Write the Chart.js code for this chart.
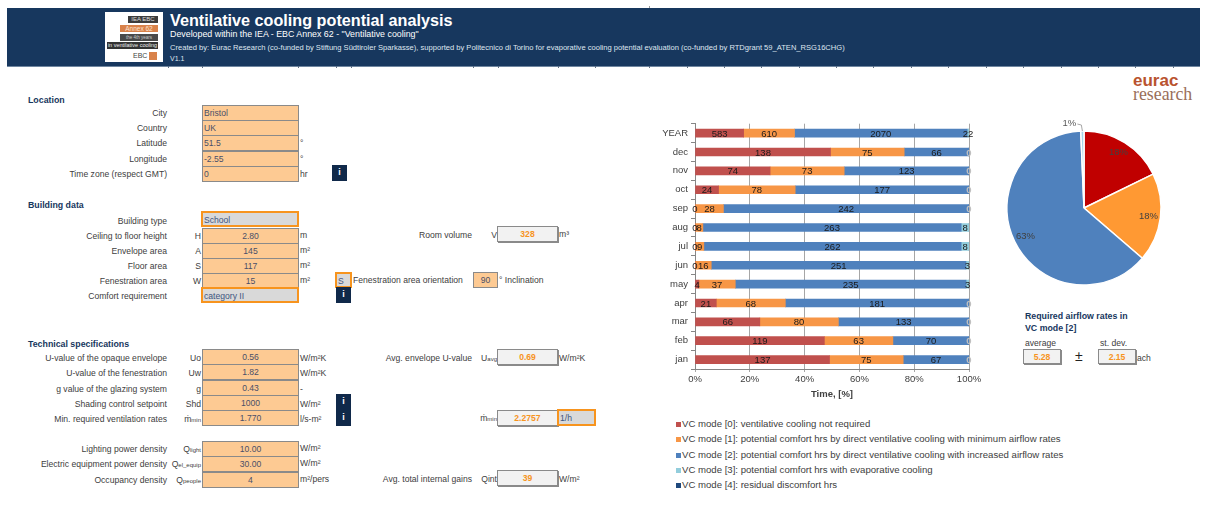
<!DOCTYPE html>
<html>
<head>
<meta charset="utf-8">
<script src="https://cdn.jsdelivr.net/npm/chart.js@4"></script>
<style>
html, body { margin: 0; padding: 0; background: #fff; }
#page { position: relative; width: 1206px; height: 523px; overflow: hidden; font-family: "Liberation Sans", Arial, sans-serif; font-size: 8.6px; color: #404040; }
#page div { position: absolute; white-space: nowrap; }
.band { background: #17375e; }
.head { color: #fff; }
.sec { font-weight: bold; color: #17375e; font-size: 8.8px; }
.lbl { text-align: right; line-height: 16px; }
.sym { text-align: right; line-height: 16px; }
.sym span { font-size: 6px; }
.unit { line-height: 15px; }
.inp { background: #fdca93; border: 1px solid #8a8a8a; box-sizing: border-box; line-height: 15px; color: #4a4f68; }
.inp.c { text-align: center; }
.inp.l { padding-left: 1px; }
.sel { background: #d9d9d9; border: 2px solid #f7941e; box-sizing: border-box; line-height: 14px; color: #3f5580; padding-left: 1px; }
.out { background: #f2f2f2; border: 1px solid #8a8a8a; box-shadow: 1px 1px 0 #8a8a8a; box-sizing: border-box; text-align: center; line-height: 14px; font-weight: bold; color: #f7941e; }
.inf { background: #10294a; color: #fff; text-align: center; font-weight: bold; line-height: 15px; font-size: 9px; }
.lg { font-size: 9.6px; color: #404040; line-height: 12px; }
.sw { width: 5px; height: 5px; }
canvas { position: absolute; }
</style>
</head>
<body>
<div id="page">
  <canvas id="barChart" style="left:650px;top:115px;width:340px;height:285px"></canvas>
  <canvas id="pieChart" style="left:999px;top:108px;width:170px;height:200px"></canvas>
</div>
<script>
// valori
const months = ['YEAR', 'dec', 'nov', 'oct', 'sep', 'aug', 'jul', 'jun', 'may', 'apr', 'mar', 'feb', 'jan'];
const mode0 = [583, 138, 74, 24, 0, 0, 0, 0, 4, 21, 66, 119, 137];
const mode1 = [610, 75, 73, 78, 28, 8, 9, 16, 37, 68, 80, 63, 75];
const mode2 = [2070, 66, 123, 177, 242, 263, 262, 251, 235, 181, 133, 70, 67];
const mode3 = [22, 0, 0, 0, 0, 8, 8, 3, 3, 0, 0, 0, 0];
const mode4 = [0, 0, 0, 0, 0, 0, 0, 0, 0, 0, 0, 0, 0];
const xTicks = ['0%', '20%', '40%', '60%', '80%', '100%'];
const legendNames = [
    'VC mode [0]:  ventilative cooling not required',
    'VC mode [1]:  potential comfort hrs by direct ventilative cooling with minimum airflow rates',
    'VC mode [2]:  potential comfort hrs by direct ventilative cooling with increased airflow rates',
    'VC mode [3]:  potential comfort hrs with evaporative cooling',
    'VC mode [4]:  residual discomfort hrs'
];
const barColors = ['#c0504d', '#f79646', '#4f81bd', '#92cddc', '#1f497d'];
const pieValues = [583, 610, 2070, 22];
const pieLabels = ['18%', '18%', '63%', '1%'];
const pieColors = ['#c00000', '#ff9933', '#4f81bd', '#a5d5e8'];

const page = document.getElementById('page');
function put(cls, x, y, w, h, text) {
    const d = document.createElement('div');
    d.className = cls;
    d.style.left = x + 'px';
    d.style.top = y + 'px';
    if (w) d.style.width = w + 'px';
    if (h) d.style.height = h + 'px';
    if (text !== undefined) d.innerHTML = text;
    page.appendChild(d);
    return d;
}

// testata
put('band', 7, 8, 1193, 58);
put('', 7, 66, 1193, 1).style.background = '#6f86a0';
put('', 649, 6, 1, 2).style.background = '#9a9a9a';
const headMarks = [168, 202, 298, 336, 351, 473, 498, 558, 595, 649, 687, 724, 761, 799, 836, 873, 911, 948, 986, 1023, 1061, 1098, 1135, 1173];
headMarks.forEach(x => {
    put('', x, 66, 1, 2).style.background = '#5d6f85';
});
put('head', 170, 11, 0, 0, 'Ventilative cooling potential analysis').style.cssText += 'font-size:16.2px;font-weight:bold;line-height:18px';
put('head', 170, 28, 0, 0, 'Developed within the IEA - EBC Annex 62 - "Ventilative cooling"').style.cssText += 'font-size:8.85px;line-height:12px';
put('head', 170, 42, 0, 0, 'Created by: Eurac Research (co-funded by Stiftung Südtiroler Sparkasse), supported by Politecnico di Torino for evaporative cooling potential evaluation (co-funded by RTDgrant 59_ATEN_RSG16CHG)').style.cssText += 'font-size:7.57px;line-height:11px;color:#dfe6ef';
put('head', 170, 53, 0, 0, 'V1.1').style.cssText += 'font-size:7px;line-height:11px;color:#dfe6ef';

// logo
put('', 105, 12, 58, 50).style.background = '#fff';
put('', 128, 16, 30, 7, 'IEA EBC').style.cssText += 'background:#3c3c3c;color:#ddd;font-size:6px;line-height:7px;text-align:center';
put('', 120, 25, 38, 7, 'Annex 62').style.cssText += 'background:#d9824a;color:#fbe3d0;font-size:6.5px;line-height:7px;text-align:center';
put('', 120, 34, 38, 7, 'the 4th years').style.cssText += 'background:#4a4a4a;color:#ccc;font-size:4.5px;line-height:7px;text-align:center';
put('', 107, 42, 51, 7, 'in ventilative cooling').style.cssText += 'background:#333;color:#eee;font-size:5.5px;line-height:7px;text-align:center';
put('', 133, 52, 15, 8, 'EBC').style.cssText += 'color:#444;font-size:7px;line-height:8px';
put('', 149, 52, 8, 8).style.background = '#d9824a';

// logo eurac
put('', 1133, 72, 0, 0, 'eurac').style.cssText += 'font-size:17px;font-weight:bold;color:#b9532f;line-height:18px';
put('', 1133, 85, 0, 0, 'research').style.cssText += 'font-family:"Liberation Serif",serif;font-size:17.8px;color:#9a6f5a;line-height:18px';

// colonna sinistra
put('sec', 28, 95, 0, 0, 'Location');
put('sec', 28, 200, 0, 0, 'Building data');
put('sec', 28, 339, 0, 0, 'Technical specifications');

function label(text, y) {
    put('lbl', 0, y, 167, 0, text);
}
function sym(text, x2, y) {
    put('sym', x2 - 40, y, 40, 0, text);
}
function unit(text, x, y) {
    put('unit', x, y, 0, 0, text);
}

const locY = [105, 120, 135, 151, 166];
const locLabels = ['City', 'Country', 'Latitude', 'Longitude', 'Time zone (respect GMT)'];
const locValues = ['Bristol', 'UK', '51.5', '-2.55', '0'];
const locUnits = ['', '', '°', '°', 'hr'];
locY.forEach((y, i) => {
    label(locLabels[i], y);
    put('inp l', 202, y, 97, 16, locValues[i]);
    if (locUnits[i]) unit(locUnits[i], 300, y + 1);
});
put('inf', 332, 165, 15, 16, 'i');

const bldY = [213, 228, 243, 258, 273, 288];
label('Building type', bldY[0]);
put('sel', 201, 211, 98, 16, 'School');
const bldLabels = ['Ceiling to floor height', 'Envelope area', 'Floor area', 'Fenestration area'];
const bldSyms = ['H', 'A', 'S', 'W'];
const bldValues = ['2.80', '145', '117', '15'];
const bldUnits = ['m', 'm²', 'm²', 'm²'];
bldLabels.forEach((t, i) => {
    const y = bldY[i + 1];
    label(t, y);
    sym(bldSyms[i], 201, y);
    put('inp c', 202, y, 97, 16, bldValues[i]);
    unit(bldUnits[i], 300, y);
});
label('Comfort requirement', bldY[5]);
put('sel', 201, 287, 98, 16, 'category II');
put('sel', 335, 272, 17, 16, 'S');
put('inf', 336, 287, 15, 16, 'i');
unit('Fenestration area orientation', 353, 273);
put('inp c', 473, 272, 25, 16, '90');
unit('° Inclination', 499, 273);

put('lbl', 330, 227, 142, 0, 'Room volume');
sym('V', 497, 227);
put('out', 497, 226, 61, 16, '328');
unit('m³', 559, 227);

const tecY = [350, 365, 381, 396, 411];
const tecLabels = ['U-value of the opaque envelope', 'U-value of the fenestration', 'g value of the glazing system', 'Shading control setpoint', 'Min. required ventilation rates'];
const tecSyms = ['Uo', 'Uw', 'g', 'Shd', 'ṁ<span>min</span>'];
const tecValues = ['0.56', '1.82', '0.43', '1000', '1.770'];
const tecUnits = ['W/m²K', 'W/m²K', '-', 'W/m²', 'l/s-m²'];
tecY.forEach((y, i) => {
    label(tecLabels[i], y);
    sym(tecSyms[i], 201, y);
    put('inp c', 202, y - 1, 97, 16, tecValues[i]);
    unit(tecUnits[i], 300, y + 1);
});
put('inf', 336, 394, 15, 16, 'i');
put('inf', 336, 410, 15, 16, 'i');

const gainY = [441, 456, 472];
const gainLabels = ['Lighting power density', 'Electric equipment power density', 'Occupancy density'];
const gainSyms = ['Q<span>light</span>', 'Q<span>el_equip</span>', 'Q<span>people</span>'];
const gainValues = ['10.00', '30.00', '4'];
const gainUnits = ['W/m²', 'W/m²', 'm²/pers'];
gainY.forEach((y, i) => {
    label(gainLabels[i], y);
    sym(gainSyms[i], 201, y);
    put('inp c', 202, y, 97, 15.5, gainValues[i]);
    unit(gainUnits[i], 300, y);
});

// colonna centrale
put('lbl', 330, 350, 142, 0, 'Avg. envelope U-value');
sym('U<span>avg</span>', 497, 350);
put('out', 497, 349, 61, 16, '0.69');
unit('W/m²K', 559, 351);
sym('ṁ<span>min</span>', 497, 410);
put('out', 497, 410, 61, 16, '2.2757');
put('sel', 557, 409, 39, 17, '1/h');
put('lbl', 330, 471, 142, 0, 'Avg. total internal gains');
sym('Qint', 497, 471);
put('out', 497, 470, 61, 16, '39');
unit('W/m²', 559, 472);

// riquadro portate
put('sec', 1025, 311, 0, 0, 'Required airflow rates in');
put('sec', 1025, 323, 0, 0, 'VC mode [2]');
unit('average', 1025, 336);
unit('st. dev.', 1100, 336);
put('out', 1023, 349, 38, 15, '5.28');
put('', 1075, 349, 0, 0, '±').style.cssText += 'font-size:14px;line-height:15px;color:#222';
put('out', 1098, 349, 38, 15, '2.15');
unit('ach', 1137, 351);

// legenda
legendNames.forEach((t, i) => {
    const y = 417.7 + i * 15.4;
    put('sw', 676, y + 4, 5, 5).style.background = barColors[i];
    put('lg', 682, y, 0, 0, t);
});

// percentuali per lo stack al 100%
const series = [mode0, mode1, mode2, mode3, mode4];
const rowTotals = months.map((m, r) => series.reduce((s, a) => s + a[r], 0));
const datasets = series.map((values, i) => ({
    label: legendNames[i],
    data: values.map((v, r) => v / rowTotals[r] * 100),
    rawValues: values,
    backgroundColor: barColors[i],
    borderWidth: 0,
    barThickness: 8
}));

// etichette sulle barre: gli zeri di mode 1, 2 e 4 non compaiono
const barLabels = {
    id: 'barLabels',
    afterDatasetsDraw(chart) {
        const ctx = chart.ctx;
        ctx.save();
        ctx.textAlign = 'center';
        ctx.textBaseline = 'middle';
        for (let i = 0; i < 4; i++) {
            const ds = chart.data.datasets[i];
            chart.getDatasetMeta(i).data.forEach((el, r) => {
                const v = ds.rawValues[r];
                if (v === 0 && i !== 0 && i !== 3) return;
                const faint = v === 0 && i === 3;
                ctx.font = (faint ? 'bold ' : '') + '9.5px "Liberation Sans"';
                ctx.fillStyle = faint ? '#c0c0c0' : '#1a1a1a';
                ctx.fillText(v, (el.base + el.x) / 2, el.y + 1);
            });
        }
        ctx.restore();
    }
};

new Chart(document.getElementById('barChart'), {
    type: 'bar',
    data: { labels: months, datasets: datasets },
    plugins: [barLabels],
    options: {
        indexAxis: 'y',
        responsive: false,
        animation: false,
        layout: { padding: { top: 7, right: 21, bottom: 0, left: 0 } },
        plugins: { legend: { display: false }, tooltip: { enabled: false } },
        scales: {
            x: {
                stacked: true,
                min: 0,
                max: 100,
                afterFit: s => { s.height = 31; },
                border: { color: '#868686' },
                grid: { color: '#a6a6a6', tickLength: 3 },
                ticks: {
                    stepSize: 20,
                    maxRotation: 0,
                    color: '#404040',
                    font: { family: 'Liberation Sans', size: 9.5 },
                    padding: 2,
                    callback: (v) => xTicks[v / 20]
                },
                title: {
                    display: true,
                    text: 'Time, [%]',
                    color: '#404040',
                    padding: { top: 3, bottom: 0 },
                    font: { family: 'Liberation Sans', size: 9.5, weight: 'bold' }
                }
            },
            y: {
                stacked: true,
                afterFit: s => { s.width = 45; },
                border: { color: '#868686' },
                grid: { drawOnChartArea: false, color: '#868686', tickLength: 4 },
                ticks: {
                    color: '#404040',
                    font: { family: 'Liberation Sans', size: 9.5 },
                    padding: 3
                }
            }
        }
    }
});

// etichette della torta
const pieText = {
    id: 'pieText',
    afterDatasetsDraw(chart) {
        const ctx = chart.ctx;
        ctx.save();
        ctx.font = '9.5px "Liberation Sans"';
        ctx.textAlign = 'center';
        ctx.textBaseline = 'middle';
        chart.getDatasetMeta(0).data.forEach((arc, i) => {
            const mid = (arc.startAngle + arc.endAngle) / 2;
            const share = (arc.endAngle - arc.startAngle) / (2 * Math.PI);
            if (share < 0.03) {
                // fetta piccola: etichetta fuori con linea di richiamo
                const x0 = arc.x + Math.cos(mid) * arc.outerRadius;
                const y0 = arc.y + Math.sin(mid) * arc.outerRadius;
                ctx.strokeStyle = '#a6a6a6';
                ctx.lineWidth = 1;
                ctx.beginPath();
                ctx.moveTo(x0, y0);
                ctx.lineTo(x0 - 1, y0 - 6);
                ctx.lineTo(x0 - 5, y0 - 7);
                ctx.stroke();
                ctx.fillStyle = '#595959';
                ctx.fillText(pieLabels[i], x0 - 13, y0 - 8);
            } else {
                ctx.fillStyle = '#404040';
                ctx.fillText(pieLabels[i], arc.x + Math.cos(mid) * 65, arc.y + Math.sin(mid) * 65);
            }
        });
        ctx.restore();
    }
};

new Chart(document.getElementById('pieChart'), {
    type: 'pie',
    data: {
        labels: legendNames.slice(0, 4),
        datasets: [{
            data: pieValues,
            backgroundColor: pieColors,
            borderColor: '#fff',
            borderWidth: 1.5,
            radius: 77
        }]
    },
    plugins: [pieText],
    options: {
        responsive: false,
        animation: false,
        plugins: { legend: { display: false }, tooltip: { enabled: false } }
    }
});
</script>
</body>
</html>
